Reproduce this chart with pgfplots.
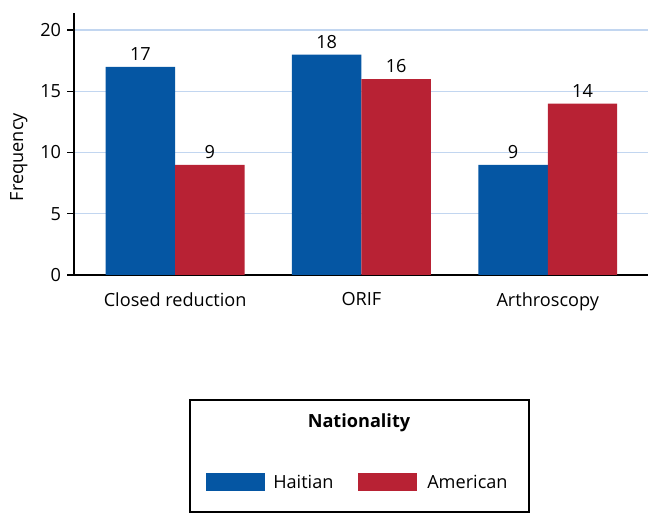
\documentclass[border=0pt]{standalone}
\usepackage{pgfplots}
\pgfplotsset{compat=1.18}
\usepackage{fontspec}
\setmainfont{Open Sans}
\definecolor{hblue}{HTML}{0556A3}
\definecolor{ared}{HTML}{B82234}
\definecolor{gridc}{HTML}{C2D6F0}
\newcommand{\fs}{\fontsize{13.6}{16}\selectfont}
\begin{document}
\fs
\begin{tikzpicture}[x=0.75pt,y=0.75pt]
\path (0,0) rectangle (662,525);
\begin{axis}[
  at={(55.5pt,187.5pt)}, anchor=south west,
  scale only axis, width=430.5pt, height=196.5pt,
  xmin=-0.543, xmax=2.538, ymin=0, ymax=21.39,
  axis x line=bottom, axis y line=left,
  axis line style={-, line width=1.5pt, black},
  ytick={0,5,10,15,20},
  xtick=data, xticklabels={Closed reduction, ORIF, Arthroscopy},
  x tick style={draw=none},
  y tick style={black, line width=1pt},
  tick align=outside, major tick length=5pt,
  ymajorgrids, grid style={gridc, line width=0.9pt},
  /pgf/number format/assume math mode=true,
  ticklabel style={font=\fs},
  xticklabel style={yshift=-3.5pt},
  ylabel={Frequency},
  ylabel style={at={(axis description cs:-0.096,0.45)}, anchor=center, font=\fs},
  ybar, bar width=52.1pt,
  nodes near coords,
  every node near coord/.append style={font=\fs, black, inner sep=4.5pt},
]
\addplot[fill=hblue, draw=none, bar shift=-26.05pt] coordinates {(0,17) (1,18) (2,9)};
\addplot[fill=ared, draw=none, bar shift=26.05pt] coordinates {(0,9) (1,16) (2,14)};
\end{axis}
% legend
\draw[line width=1.2pt] (190,125) rectangle (529,13);
\node[font=\bfseries\fs] at (359,102) {Nationality};
\fill[hblue] (206,34) rectangle (265,52);
\node[anchor=west, inner sep=0pt] at (273,43) {Haitian};
\fill[ared] (358,34) rectangle (417,52);
\node[anchor=west, inner sep=0pt] at (427,43) {American};
\end{tikzpicture}
\end{document}
